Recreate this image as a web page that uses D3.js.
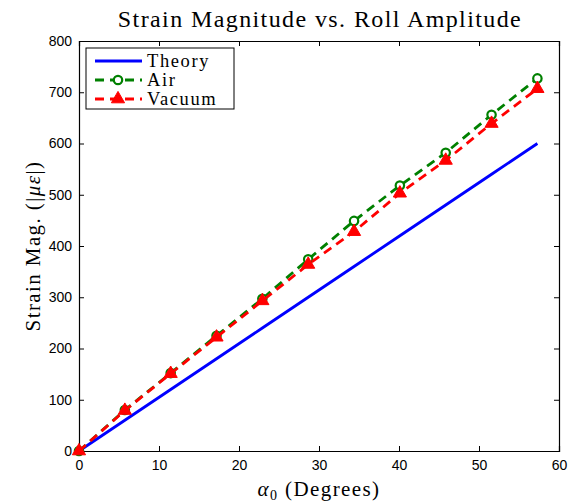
<!DOCTYPE html>
<html>
<head>
<meta charset="utf-8">
<script src="https://cdn.jsdelivr.net/npm/d3@7"></script>
<style>
  body { margin: 0; background: white; }
  #vis { width: 568px; height: 503px; }
  .tick text { font-family: "Liberation Sans", Arial, sans-serif; font-size: 14px; fill: black; }
</style>
</head>
<body>
<div id="vis"></div>
<script>
// roll amplitude in degrees (0.1 rad steps)
var alphaDeg = [0, 5.73, 11.46, 17.19, 22.92, 28.65, 34.38, 40.11, 45.84, 51.57, 57.30];
var theoryVals = [0, 60, 120, 180, 240, 300, 360, 420, 480, 540, 600];
var airVals = [0, 80, 152, 225, 297, 374, 449, 518, 582, 656, 727];
var vacuumVals = [0, 79, 151, 222, 293, 364, 428, 503, 567, 639, 707];
var xTicks = [0, 10, 20, 30, 40, 50, 60];
var yTicks = [0, 100, 200, 300, 400, 500, 600, 700, 800];

var serif = '"Liberation Serif", "DejaVu Serif", serif';
var width = 568, height = 503;
var margin = { top: 41, right: 9, bottom: 52, left: 79 };
var w = width - margin.left - margin.right;
var h = height - margin.top - margin.bottom;

var svg = d3.select('#vis').append('svg')
    .attr('width', width)
    .attr('height', height);

var g = svg.append('g')
    .attr('transform', 'translate(' + margin.left + ',' + margin.top + ')');

var x = d3.scaleLinear().domain([0, 60]).range([0, w]);
var y = d3.scaleLinear().domain([0, 800]).range([h, 0]);

// axes with inward ticks, mirrored on top/right
g.append('g').attr('transform', 'translate(0,' + h + ')')
    .call(d3.axisBottom(x).tickValues(xTicks).tickSize(-5).tickPadding(9));
g.append('g')
    .call(d3.axisLeft(y).tickValues(yTicks).tickSize(-5).tickPadding(7));
g.append('g')
    .call(d3.axisTop(x).tickValues(xTicks).tickSize(-5).tickFormat(''));
g.append('g').attr('transform', 'translate(' + w + ',0)')
    .call(d3.axisRight(y).tickValues(yTicks).tickSize(-5).tickFormat(''));
g.selectAll('.domain').attr('stroke', 'black').attr('stroke-width', 1.2);
g.selectAll('.tick line').attr('stroke', 'black');

var theory = alphaDeg.map(function(d, i) { return [d, theoryVals[i]]; });
var air = alphaDeg.map(function(d, i) { return [d, airVals[i]]; });
var vacuum = alphaDeg.map(function(d, i) { return [d, vacuumVals[i]]; });

var line = d3.line()
    .x(function(d) { return x(d[0]); })
    .y(function(d) { return y(d[1]); });

g.append('path').datum(theory)
    .attr('d', line).attr('fill', 'none')
    .attr('stroke', '#0000ff').attr('stroke-width', 2.8);

g.append('path').datum(air)
    .attr('d', line).attr('fill', 'none')
    .attr('stroke', '#008000').attr('stroke-width', 2.8)
    .attr('stroke-dasharray', '9,6');

g.selectAll('circle.air').data(air).enter()
    .append('circle').attr('class', 'air')
    .attr('cx', function(d) { return x(d[0]); })
    .attr('cy', function(d) { return y(d[1]); })
    .attr('r', 4.2)
    .attr('fill', 'white')
    .attr('stroke', '#008000').attr('stroke-width', 2.2);

g.append('path').datum(vacuum)
    .attr('d', line).attr('fill', 'none')
    .attr('stroke', '#ff0000').attr('stroke-width', 2.8)
    .attr('stroke-dasharray', '9,6');

var tri = d3.symbol().type(d3.symbolTriangle).size(75);
g.selectAll('path.vac').data(vacuum).enter()
    .append('path').attr('class', 'vac')
    .attr('d', tri)
    .attr('transform', function(d) { return 'translate(' + x(d[0]) + ',' + y(d[1]) + ')'; })
    .attr('fill', '#ff0000').attr('stroke', '#ff0000').attr('stroke-width', 1);

// legend
var lg = svg.append('g').attr('transform', 'translate(86,48)');
lg.append('rect').attr('width', 148).attr('height', 61)
    .attr('fill', 'white').attr('stroke', 'black').attr('stroke-width', 1);

var legendItems = [
    { name: 'Theory', color: '#0000ff', dash: null, marker: null },
    { name: 'Air', color: '#008000', dash: '9,6', marker: 'circle' },
    { name: 'Vacuum', color: '#ff0000', dash: '9,6', marker: 'triangle' }
];
legendItems.forEach(function(it, i) {
    var yy = 13 + i * 19;
    lg.append('line').attr('x1', 9).attr('x2', 56).attr('y1', yy).attr('y2', yy)
        .attr('stroke', it.color).attr('stroke-width', 2.8)
        .attr('stroke-dasharray', it.dash);
    if (it.marker === 'circle') {
        lg.append('circle').attr('cx', 32).attr('cy', yy).attr('r', 4.2)
            .attr('fill', 'white').attr('stroke', it.color).attr('stroke-width', 2.2);
    } else if (it.marker === 'triangle') {
        lg.append('path').attr('d', tri).attr('transform', 'translate(32,' + yy + ')')
            .attr('fill', it.color).attr('stroke', it.color);
    }
    lg.append('text').attr('x', 61).attr('y', yy + 6).text(it.name)
        .style('font-family', serif)
        .style('font-size', '18.5px')
        .style('letter-spacing', '1.6px');
});

// title and axis labels
svg.append('text').text('Strain Magnitude vs. Roll Amplitude')
    .attr('x', margin.left + w / 2 + 1).attr('y', 27)
    .attr('text-anchor', 'middle')
    .style('font-family', serif)
    .style('font-size', '24px')
    .style('letter-spacing', '1.4px');

var xl = svg.append('text')
    .attr('x', margin.left + w / 2).attr('y', 496)
    .attr('text-anchor', 'middle')
    .style('font-family', serif)
    .style('font-size', '21px')
    .style('letter-spacing', '1.4px');
xl.append('tspan').text('α').style('font-style', 'italic');
xl.append('tspan').text('0').attr('dy', 4).style('font-size', '14px');
xl.append('tspan').text(' (Degrees)').attr('dy', -4);

var yl = svg.append('text')
    .attr('transform', 'translate(40,' + (margin.top + h / 2) + ')rotate(-90)')
    .attr('text-anchor', 'middle')
    .style('font-family', serif)
    .style('font-size', '21px')
    .style('letter-spacing', '1.4px');
yl.append('tspan').text('Strain Mag. (|');
yl.append('tspan').text('με').style('font-style', 'italic');
yl.append('tspan').text('|)');
</script>
</body>
</html>
